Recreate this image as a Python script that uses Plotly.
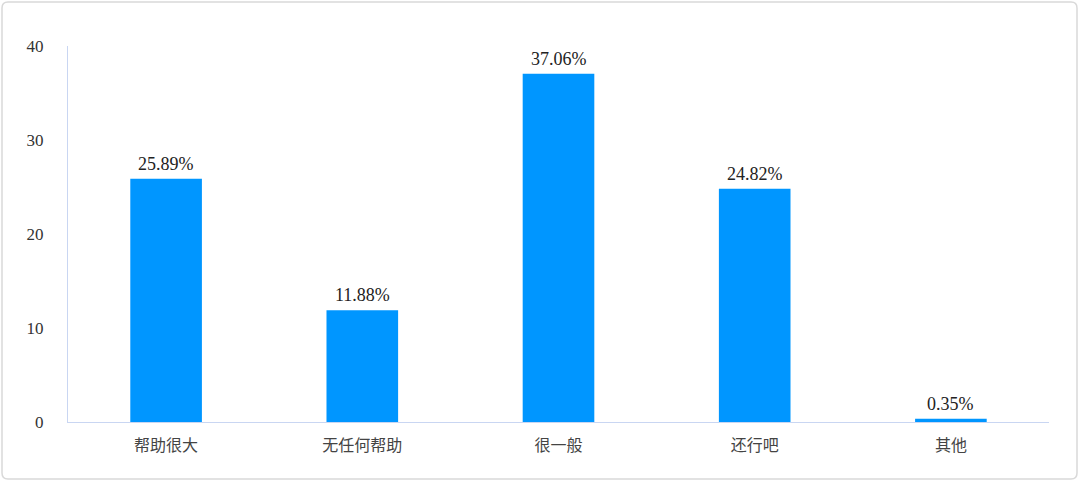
import plotly.graph_objects as go

# 数据
categories = ['帮助很大', '无任何帮助', '很一般', '还行吧', '其他']
values = [25.89, 11.88, 37.06, 24.82, 0.35]
labels = ['25.89%', '11.88%', '37.06%', '24.82%', '0.35%']

W, H = 1080, 482
L, R, T, B = 68, 31, 46, 60
pw, ph = W - L - R, H - T - B

fig = go.Figure(go.Bar(
    x=categories, y=values,
    marker=dict(color='#0096ff', line=dict(width=0)),
    width=0.365,
))

# 数值标签
for c, v, t in zip(categories, values, labels):
    fig.add_annotation(x=c, y=v, text=t, showarrow=False, yanchor='bottom',
                       yshift=3, font=dict(family='Liberation Serif', size=18, color='#222'))

# 外框 (圆角)
def px_x(v):
    return (v - L) / pw

def px_y(v):
    return (H - B - v) / ph

x0, x1, y0, y1, r = 2, 1077, 2, 479, 6
path = (f"M {px_x(x0 + r)},{px_y(y0)} L {px_x(x1 - r)},{px_y(y0)} "
        f"Q {px_x(x1)},{px_y(y0)} {px_x(x1)},{px_y(y0 + r)} "
        f"L {px_x(x1)},{px_y(y1 - r)} Q {px_x(x1)},{px_y(y1)} {px_x(x1 - r)},{px_y(y1)} "
        f"L {px_x(x0 + r)},{px_y(y1)} Q {px_x(x0)},{px_y(y1)} {px_x(x0)},{px_y(y1 - r)} "
        f"L {px_x(x0)},{px_y(y0 + r)} Q {px_x(x0)},{px_y(y0)} {px_x(x0 + r)},{px_y(y0)} Z")
fig.add_shape(type='path', path=path, xref='paper', yref='paper',
              line=dict(color='#d9d9d9', width=1.5), layer='below')

fig.update_layout(
    width=W, height=H,
    margin=dict(l=L, r=R, t=T, b=B),
    plot_bgcolor='white', paper_bgcolor='white',
    showlegend=False,
    xaxis=dict(showline=True, linecolor='#c9d6f2', linewidth=1.2,
               ticks='', showgrid=False, ticklabelstandoff=9,
               tickfont=dict(family='Noto Sans CJK SC', size=16, color='#444')),
    yaxis=dict(range=[0, 40], tickvals=[0, 10, 20, 30, 40],
               showline=True, linecolor='#c9d6f2', linewidth=1.2,
               showgrid=False, zeroline=False, ticks='', ticklabelstandoff=20,
               tickfont=dict(family='Liberation Serif', size=17, color='#333')),
)

# 去掉页面默认边距
fig.write_html("out.html", config={'displayModeBar': False},
               post_script="document.body.style.margin='0';")
